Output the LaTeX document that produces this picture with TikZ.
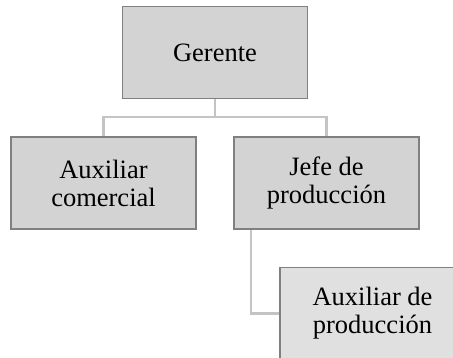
\documentclass[tikz,border=0pt]{standalone}
\usepackage{fontspec}
\setmainfont{Liberation Serif}
\usepackage{tikz}
\usetikzlibrary{positioning, calc, backgrounds}
\definecolor{boxfill}{RGB}{211, 211, 211}
\definecolor{boxfilltwo}{RGB}{224, 224, 224}
\definecolor{boxline}{RGB}{128, 128, 128}
\definecolor{linkgray}{RGB}{196, 196, 196}

\begin{document}
\begin{tikzpicture}[
  x=1pt, y=1pt,
  box/.style={rectangle, draw=boxline, line width=1.6pt, fill=#1,
              font=\fontsize{26.5}{28}\selectfont, align=center,
              minimum width=185pt, minimum height=92pt, inner sep=0pt},
  link/.style={draw=linkgray, line width=2.4pt}
]
  \useasboundingbox (0,0) rectangle (453,-358);
  \clip (0,0) rectangle (453,-358);

  %% Boxes
  \node[box=boxfill] (ger)  at (215,-52.5)  {Gerente};
  \node[box=boxfill] (aux)  at (103.5,-183) {Auxiliar\\ comercial};
  \node[box=boxfill] (jefe) at (326.5,-183) {Jefe de\\ producción};
  \node[box=boxfilltwo] (auxp) at (372.5,-313.5) {Auxiliar de\\ producción};

  %% Connectors
  \begin{scope}[on background layer]
    \coordinate (split) at ($(ger.south)+(0,-18)$);
    \draw[link] (ger.south) -- (split) -| (aux.north);
    \draw[link] (split) -| (jefe.north);
    \draw[link] ([xshift=18pt]jefe.south west) |- (auxp.west);
  \end{scope}
\end{tikzpicture}
\end{document}
